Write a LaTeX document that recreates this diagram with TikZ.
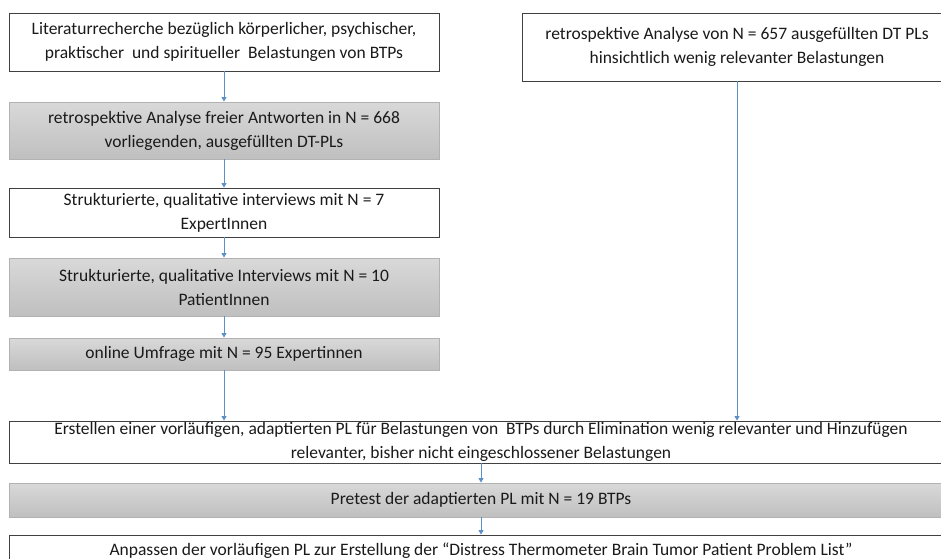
\documentclass[tikz,border=0pt]{standalone}
\usepackage{fontspec}
\setmainfont{Carlito}
\usetikzlibrary{arrows.meta}
\definecolor{arr}{HTML}{5B8FC7}
\definecolor{txt}{HTML}{1A1A1A}
\tikzset{
 box/.style={draw=black!75, line width=0.9pt, fill=white, minimum width=430pt, inner sep=0pt, align=center, font=\fontsize{17.5}{24}\selectfont, text=txt},
 graybox/.style={box, draw=gray!60, top color=gray!30, bottom color=gray!50},
 wide/.style={minimum width=944pt},
 conn/.style={draw=arr, line width=0.8pt, -{Triangle[width=5pt,length=4.5pt]}}
}
\begin{document}
\begin{tikzpicture}[x=1pt,y=-1pt]
\useasboundingbox (0,0) rectangle (941,558);
\clip (0,0) rectangle (941,558);
\node[box, minimum height=58pt] (b1) at (224,42) {Literaturrecherche bezüglich körperlicher, psychischer,\\praktischer\ \ und spiritueller\ \ Belastungen von BTPs};
\node[graybox, minimum height=57pt] (b2) at (224,130.5) {retrospektive Analyse freier Antworten in N = 668\\vorliegenden, ausgefüllten DT-PLs};
\node[box, minimum height=49pt] (b3) at (224,212.5) {Strukturierte, qualitative interviews mit N = 7\\ExpertInnen};
\node[graybox, minimum height=58pt] (b4) at (224,287) {Strukturierte, qualitative Interviews mit N = 10\\PatientInnen};
\node[graybox, minimum height=32pt] (b5) at (224,354) {online Umfrage mit N = 95 Expertinnen};
\node[box, minimum height=68pt] (r) at (737,47) {retrospektive Analyse von N = 657 ausgefüllten DT PLs\\hinsichtlich wenig relevanter Belastungen};
\node[box, wide, minimum height=42pt] (w1) at (481,442) {Erstellen einer vorläufigen, adaptierten PL für Belastungen von\ \ BTPs durch Elimination wenig relevanter und Hinzufügen\\relevanter, bisher nicht eingeschlossener Belastungen};
\node[graybox, wide, minimum height=34pt] (w2) at (481,500) {Pretest der adaptierten PL mit N = 19 BTPs};
\node[box, wide, minimum height=42pt] (w3) at (481,556) {};
\node[font=\fontsize{17.5}{24}\selectfont, text=txt, anchor=base] (w3t) at (481,555) {Anpassen der vorläufigen PL zur Erstellung der “Distress Thermometer Brain Tumor Patient Problem List”};
\draw[conn] (b1) -- (b2);
\draw[conn] (b2) -- (b3);
\draw[conn] (b3) -- (b4);
\draw[conn] (b4) -- (b5);
\draw[conn] (b5) -- (b5 |- w1.north);
\draw[conn] (r) -- (r |- w1.north);
\draw[conn] (w1) -- (w2);
\draw[conn] (w2) -- (w3);
\end{tikzpicture}
\end{document}
